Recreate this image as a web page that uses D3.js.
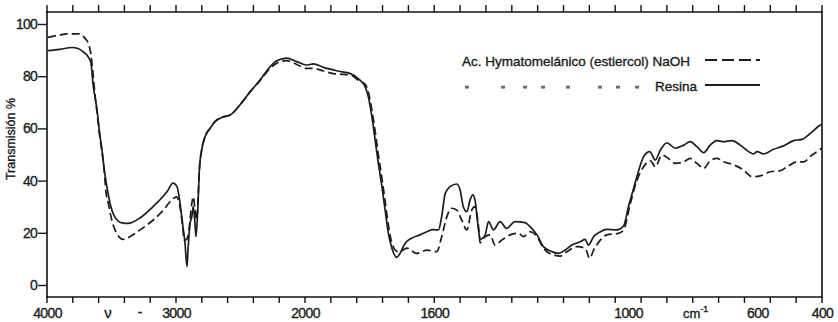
<!DOCTYPE html>
<html>
<head>
<meta charset="utf-8">
<script src="https://cdn.jsdelivr.net/npm/d3@7"></script>
<style>
  html, body { margin: 0; padding: 0; background: #fff; }
  .lbl { font-family: "Liberation Sans", "DejaVu Sans", sans-serif; fill: #1c1c1c; stroke: #1c1c1c; stroke-width: 0.35px; }
</style>
</head>
<body>
<svg id="chart" width="838" height="322"></svg>
<script>
// IR spectrum: wavenumber (cm-1) vs transmission (%)
const xLabelValues = [4000, 3000, 2000, 1600, 1000, 600, 400];
const yLabelValues = [0, 20, 40, 60, 80, 100];

// Ac. Hymatomelánico (estiercol) NaOH — dashed trace
const naoh = [
  [3992, 94.9], [3900, 95.8], [3847, 96.2], [3757, 96.2], [3705, 94.5], [3680, 92.6],
  [3661, 88.8], [3646, 82.4], [3628, 73], [3612, 66], [3589, 56], [3574, 51], [3558, 44.5],
  [3543, 35.7], [3525, 31.3], [3498, 24.9], [3460, 19.8], [3409, 17.5], [3357, 18.5],
  [3279, 21.1], [3176, 24.9], [3098, 28.7], [3033, 32.6], [2995, 33.8], [2969, 30],
  [2948, 22.3], [2936, 17.2], [2917, 17.5], [2900, 21], [2878, 31], [2866, 33.8],
  [2853, 29], [2840, 25], [2829, 33], [2819, 44], [2801, 51.7], [2775, 56.8], [2736, 60],
  [2698, 62.6], [2646, 64.2], [2581, 65.1], [2504, 69], [2426, 74], [2349, 78.3],
  [2271, 83], [2219, 85], [2142, 86], [2064, 84.5], [1995, 83], [1974, 83], [1943, 82],
  [1912, 81], [1892, 80.8], [1861, 80.5], [1830, 78], [1814, 77], [1804, 74], [1793, 67],
  [1783, 59], [1773, 50], [1762, 41], [1752, 32], [1742, 23], [1731, 16], [1716, 13],
  [1706, 12.8], [1685, 14.1], [1654, 12.1], [1623, 13.4], [1592, 12.8], [1577, 18.5],
  [1561, 26.2], [1546, 29.4], [1530, 28.7], [1515, 24.9], [1499, 21.1], [1484, 28.7],
  [1474, 30], [1463, 22.3], [1458, 16.2], [1443, 18.5], [1427, 19.2], [1412, 15.3],
  [1391, 17.2], [1365, 19.2], [1339, 19.8], [1324, 18.5], [1303, 20.4], [1282, 18.5],
  [1262, 14.1], [1231, 11.5], [1210, 11.1], [1189, 12.8], [1158, 14.7], [1133, 14.1],
  [1119, 10.2], [1107, 13.4], [1086, 17.2], [1066, 19.2], [1030, 19.8], [1014, 21.1],
  [993, 31.3], [973, 40], [952, 45.3], [931, 47.6], [916, 45.3], [895, 49.8], [880, 48.9],
  [854, 46.6], [828, 47.2], [808, 48.5], [787, 46.6], [766, 44.7], [746, 47.6], [725, 48.5],
  [705, 47.2], [673, 46], [642, 44], [617, 41.5], [591, 41.8], [560, 43.4], [529, 43.8],
  [508, 45.3], [477, 47.2], [457, 47.2], [431, 49.8], [405, 52], [400, 52.5]
];

// Ac. Hymatomelánico (estiercol) Resina — solid trace
const resina = [
  [3992, 89.8], [3900, 90.3], [3806, 91], [3760, 90.6], [3721, 89.4], [3682, 87.5],
  [3659, 85], [3643, 77], [3612, 67], [3589, 57], [3574, 52], [3558, 45], [3535, 37.5],
  [3512, 31.4], [3473, 26], [3419, 23.8], [3372, 23.6], [3279, 25.7], [3178, 30],
  [3070, 35.7], [3023, 39], [2992, 37.7], [2969, 31.4], [2946, 22.3], [2930, 16],
  [2915, 7], [2907, 13.4], [2891, 23.6], [2878, 26], [2866, 30], [2853, 23.6],
  [2845, 18.5], [2829, 31.4], [2819, 44], [2801, 51.7], [2775, 56.8], [2736, 60],
  [2698, 62.6], [2646, 64.2], [2581, 65.1], [2504, 69], [2426, 74], [2349, 78.5],
  [2271, 83.6], [2219, 85.9], [2142, 86.9], [2064, 85.6], [1995, 84.3], [1974, 84.7],
  [1943, 83.4], [1912, 82.4], [1892, 81.8], [1861, 81.1], [1830, 78.5], [1814, 76],
  [1804, 72.1], [1793, 64.5], [1783, 55.6], [1773, 46.6], [1762, 37.7], [1752, 28.7],
  [1742, 19.8], [1731, 14.1], [1716, 10.6], [1706, 12.1], [1690, 16], [1670, 17.9],
  [1644, 19.2], [1623, 20.4], [1603, 21.2], [1587, 21.1], [1577, 26.2], [1566, 35.1],
  [1551, 37.7], [1530, 38.7], [1520, 36.4], [1510, 30], [1499, 28.1], [1489, 32.6],
  [1481, 34.5], [1474, 32.6], [1463, 21.1], [1458, 17.5], [1443, 19], [1432, 24.3],
  [1417, 21.1], [1396, 24.3], [1376, 21.7], [1350, 24.3], [1319, 23.9], [1303, 22.3],
  [1282, 19.2], [1262, 14.7], [1236, 12.8], [1215, 12.1], [1195, 13.4], [1174, 15.3],
  [1148, 16.6], [1133, 17.5], [1123, 15.3], [1107, 18.5], [1086, 20.4], [1066, 21.3],
  [1035, 21.1], [1014, 22.6], [999, 30], [983, 37], [967, 44], [952, 49.2], [933, 51.1],
  [916, 47.9], [900, 51.7], [880, 54.5], [854, 52.4], [828, 53.6], [808, 54.9], [787, 53],
  [766, 50.7], [746, 53.6], [725, 55.3], [705, 54.9], [679, 55.3], [653, 53.6], [627, 51.1],
  [612, 50.2], [601, 51.1], [581, 50.2], [550, 52], [519, 53.3], [488, 55.3], [462, 55.8],
  [436, 58.1], [405, 61.3], [400, 61.6]
];

const ink = "#1c1c1c";
const plotLeft = 47, plotRight = 822, plotTop = 12, plotBottom = 297;

const svg = d3.select("#chart");

// Grating change at 2000 cm-1: the low-wavenumber half is stretched
const x = d3.scaleLinear().domain([4000, 2000, 400]).range([plotLeft, 305, plotRight]);
const y = d3.scaleLinear().domain([0, 100]).range([285, 24]);

// Chart-paper tick marks: every 200 cm-1 above 2000, every 80 cm-1 below
const minorTicks = d3.range(4000, 2000, -200).concat(d3.range(2000, 399, -80));

// spectra
const spectrumLine = d3.line()
  .x(d => x(d[0]))
  .y(d => y(d[1]))
  .curve(d3.curveMonotoneX);

svg.append("path").datum(naoh)
  .attr("d", spectrumLine).attr("fill", "none")
  .attr("stroke", ink).attr("stroke-width", 1.7)
  .attr("stroke-dasharray", "8,4");

svg.append("path").datum(resina)
  .attr("d", spectrumLine).attr("fill", "none")
  .attr("stroke", ink).attr("stroke-width", 1.7);

// wavenumber labels
const xLabels = svg.append("g")
  .attr("transform", `translate(0,${plotBottom})`)
  .call(d3.axisBottom(x).tickValues(xLabelValues).tickSize(0).tickPadding(11).tickFormat(d3.format("d")));
xLabels.select(".domain").remove();
xLabels.selectAll("text").attr("class", "lbl")
  .attr("font-size", 14).attr("letter-spacing", -0.6);

// transmission axis
const yAxis = svg.append("g")
  .attr("transform", `translate(${plotLeft},0)`)
  .call(d3.axisLeft(y).tickValues(yLabelValues).tickSize(9).tickPadding(1).tickFormat(d3.format("d")));
yAxis.select(".domain").remove();
yAxis.selectAll("line").attr("stroke", ink).attr("stroke-width", 1.4);
yAxis.selectAll("text").attr("class", "lbl")
  .attr("font-size", 14).attr("letter-spacing", -0.8);

// axis titles
svg.append("text").attr("class", "lbl")
  .attr("transform", `translate(15,139) rotate(-90)`)
  .attr("text-anchor", "middle").attr("font-size", 12.5)
  .text("Transmisión %");

svg.append("text").attr("class", "lbl").attr("x", 108).attr("y", 318)
  .attr("text-anchor", "middle").attr("font-size", 15).text("ν");
svg.append("text").attr("class", "lbl").attr("x", 140).attr("y", 317)
  .attr("text-anchor", "middle").attr("font-size", 14).text("-");

const cm = svg.append("text").attr("class", "lbl").attr("x", 683).attr("y", 318).attr("font-size", 13);
cm.append("tspan").text("cm");
cm.append("tspan").attr("dy", -6).attr("font-size", 9).text("-1");

// legend
const legend = svg.append("g").attr("font-size", 13.5);
legend.append("text").attr("class", "lbl").attr("x", 462).attr("y", 66)
  .text("Ac. Hymatomelánico (estiercol) NaOH");
legend.append("line")
  .attr("x1", 705).attr("x2", 760).attr("y1", 60).attr("y2", 60)
  .attr("stroke", ink).attr("stroke-width", 1.8).attr("stroke-dasharray", "12,5");

const dittoX = [467, 503, 525, 543, 568, 600, 618, 637];
legend.selectAll("text.ditto").data(dittoX).enter().append("text")
  .attr("class", "ditto lbl")
  .attr("x", d => d).attr("y", 94)
  .attr("text-anchor", "middle").attr("font-size", 11)
  .text("\"");
legend.append("text").attr("class", "lbl").attr("x", 655).attr("y", 91).text("Resina");
legend.append("line")
  .attr("x1", 705).attr("x2", 760).attr("y1", 85).attr("y2", 85)
  .attr("stroke", ink).attr("stroke-width", 1.8);

// frame, drawn on top: four edges
const frameG = svg.append("g").attr("class", "frame");
[
  [plotLeft, plotTop, plotRight, plotTop],
  [plotLeft, plotBottom, plotRight, plotBottom],
  [plotLeft, plotTop, plotLeft, plotBottom],
  [plotRight, plotTop, plotRight, plotBottom]
].forEach(([x1, y1, x2, y2]) => {
  frameG.append("line")
    .attr("x1", x1).attr("y1", y1).attr("x2", x2).attr("y2", y2)
    .attr("stroke", "#111").attr("stroke-width", 1.6).attr("stroke-linecap", "square");
});

// chart-paper tick marks: bottom ones point down, top ones point up
const tickG = svg.append("g").attr("class", "ticks");
minorTicks.forEach(v => {
  const px = x(v);
  tickG.append("line")
    .attr("x1", px).attr("x2", px).attr("y1", plotBottom).attr("y2", plotBottom + 6)
    .attr("stroke", "#111").attr("stroke-width", 1.4);
  tickG.append("line")
    .attr("x1", px).attr("x2", px).attr("y1", plotTop).attr("y2", plotTop - 7)
    .attr("stroke", "#111").attr("stroke-width", 1.4);
});
</script>
</body>
</html>
